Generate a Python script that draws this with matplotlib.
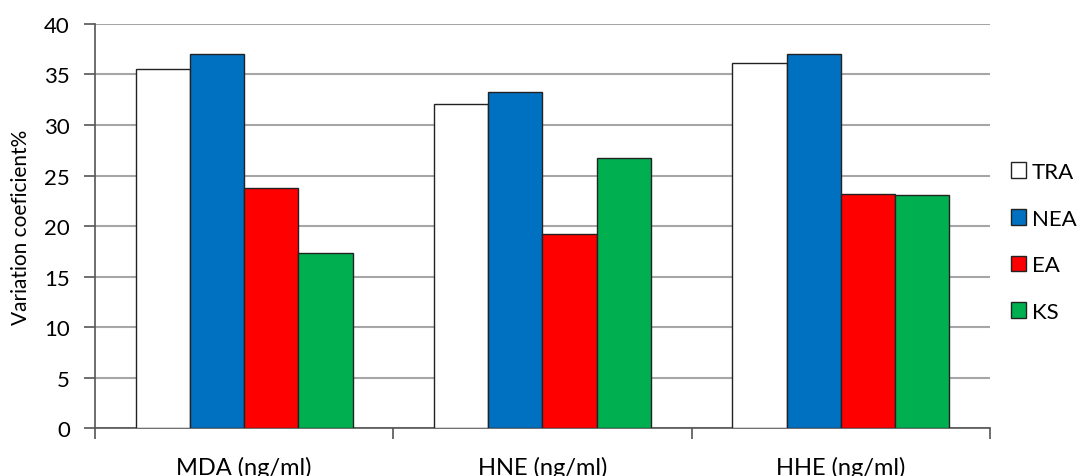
import numpy as np
import matplotlib.pyplot as plt
from matplotlib.patches import Patch

categories = ['MDA (ng/ml)', 'HNE (ng/ml)', 'HHE (ng/ml)']
series = ['TRA', 'NEA', 'EA', 'KS']
tra = [35.5, 32.1, 36.1]
nea = [37.0, 33.3, 37.0]
ea = [23.8, 19.2, 23.2]
ks = [17.3, 26.7, 23.1]
yticks = [0, 5, 10, 15, 20, 25, 30, 35, 40]

colors = ['#ffffff', '#0070c0', '#ff0000', '#00b050']

plt.rcParams['font.family'] = ['Lato', 'DejaVu Sans']

fig = plt.figure(figsize=(10.79, 4.77), dpi=100)
ax = fig.add_axes([0.088, 0.1006, 0.8295, 0.847])

x = np.arange(len(categories))
width = 1 / 5.5
for i, (vals, col) in enumerate(zip([tra, nea, ea, ks], colors)):
    ax.bar(x + (i - 1.5) * width, vals, width, color=col,
           edgecolor='#222222', linewidth=1.0, zorder=3)

ax.set_xlim(-0.5, 2.5)
ax.set_ylim(0, 40)
ax.set_yticks(yticks)
ax.yaxis.grid(True, color='#a6a6a6', linewidth=1.5, zorder=0)

ax.set_xticks(x)
ax.set_xticklabels(categories, fontsize=17)
ax.set_xticks([-0.5, 0.5, 1.5, 2.5], minor=True)
ax.tick_params(axis='x', which='major', length=0, pad=20)
ax.tick_params(axis='x', which='minor', length=8, width=1.2, color='#555555')
ax.tick_params(axis='y', length=8, width=1.2, color='#555555', labelsize=16, pad=10)

for side in ['top', 'right']:
    ax.spines[side].set_visible(False)
for side in ['left', 'bottom']:
    ax.spines[side].set_color('#555555')
    ax.spines[side].set_linewidth(1.2)

ax.set_ylabel('Variation coeficient%', fontsize=15)
ax.yaxis.set_label_coords(-0.071, 0.5)

# square legend keys, Excel style
handles = [Patch(facecolor=c, edgecolor='#222222', linewidth=1.0) for c in colors]
fig.legend(handles, series, loc='center left', bbox_to_anchor=(0.9286, 0.4906),
           frameon=False, fontsize=16, handlelength=0.7, handleheight=0.7,
           handletextpad=0.25, labelspacing=1.2, borderaxespad=0)

fig.savefig('out.png', dpi=100)
